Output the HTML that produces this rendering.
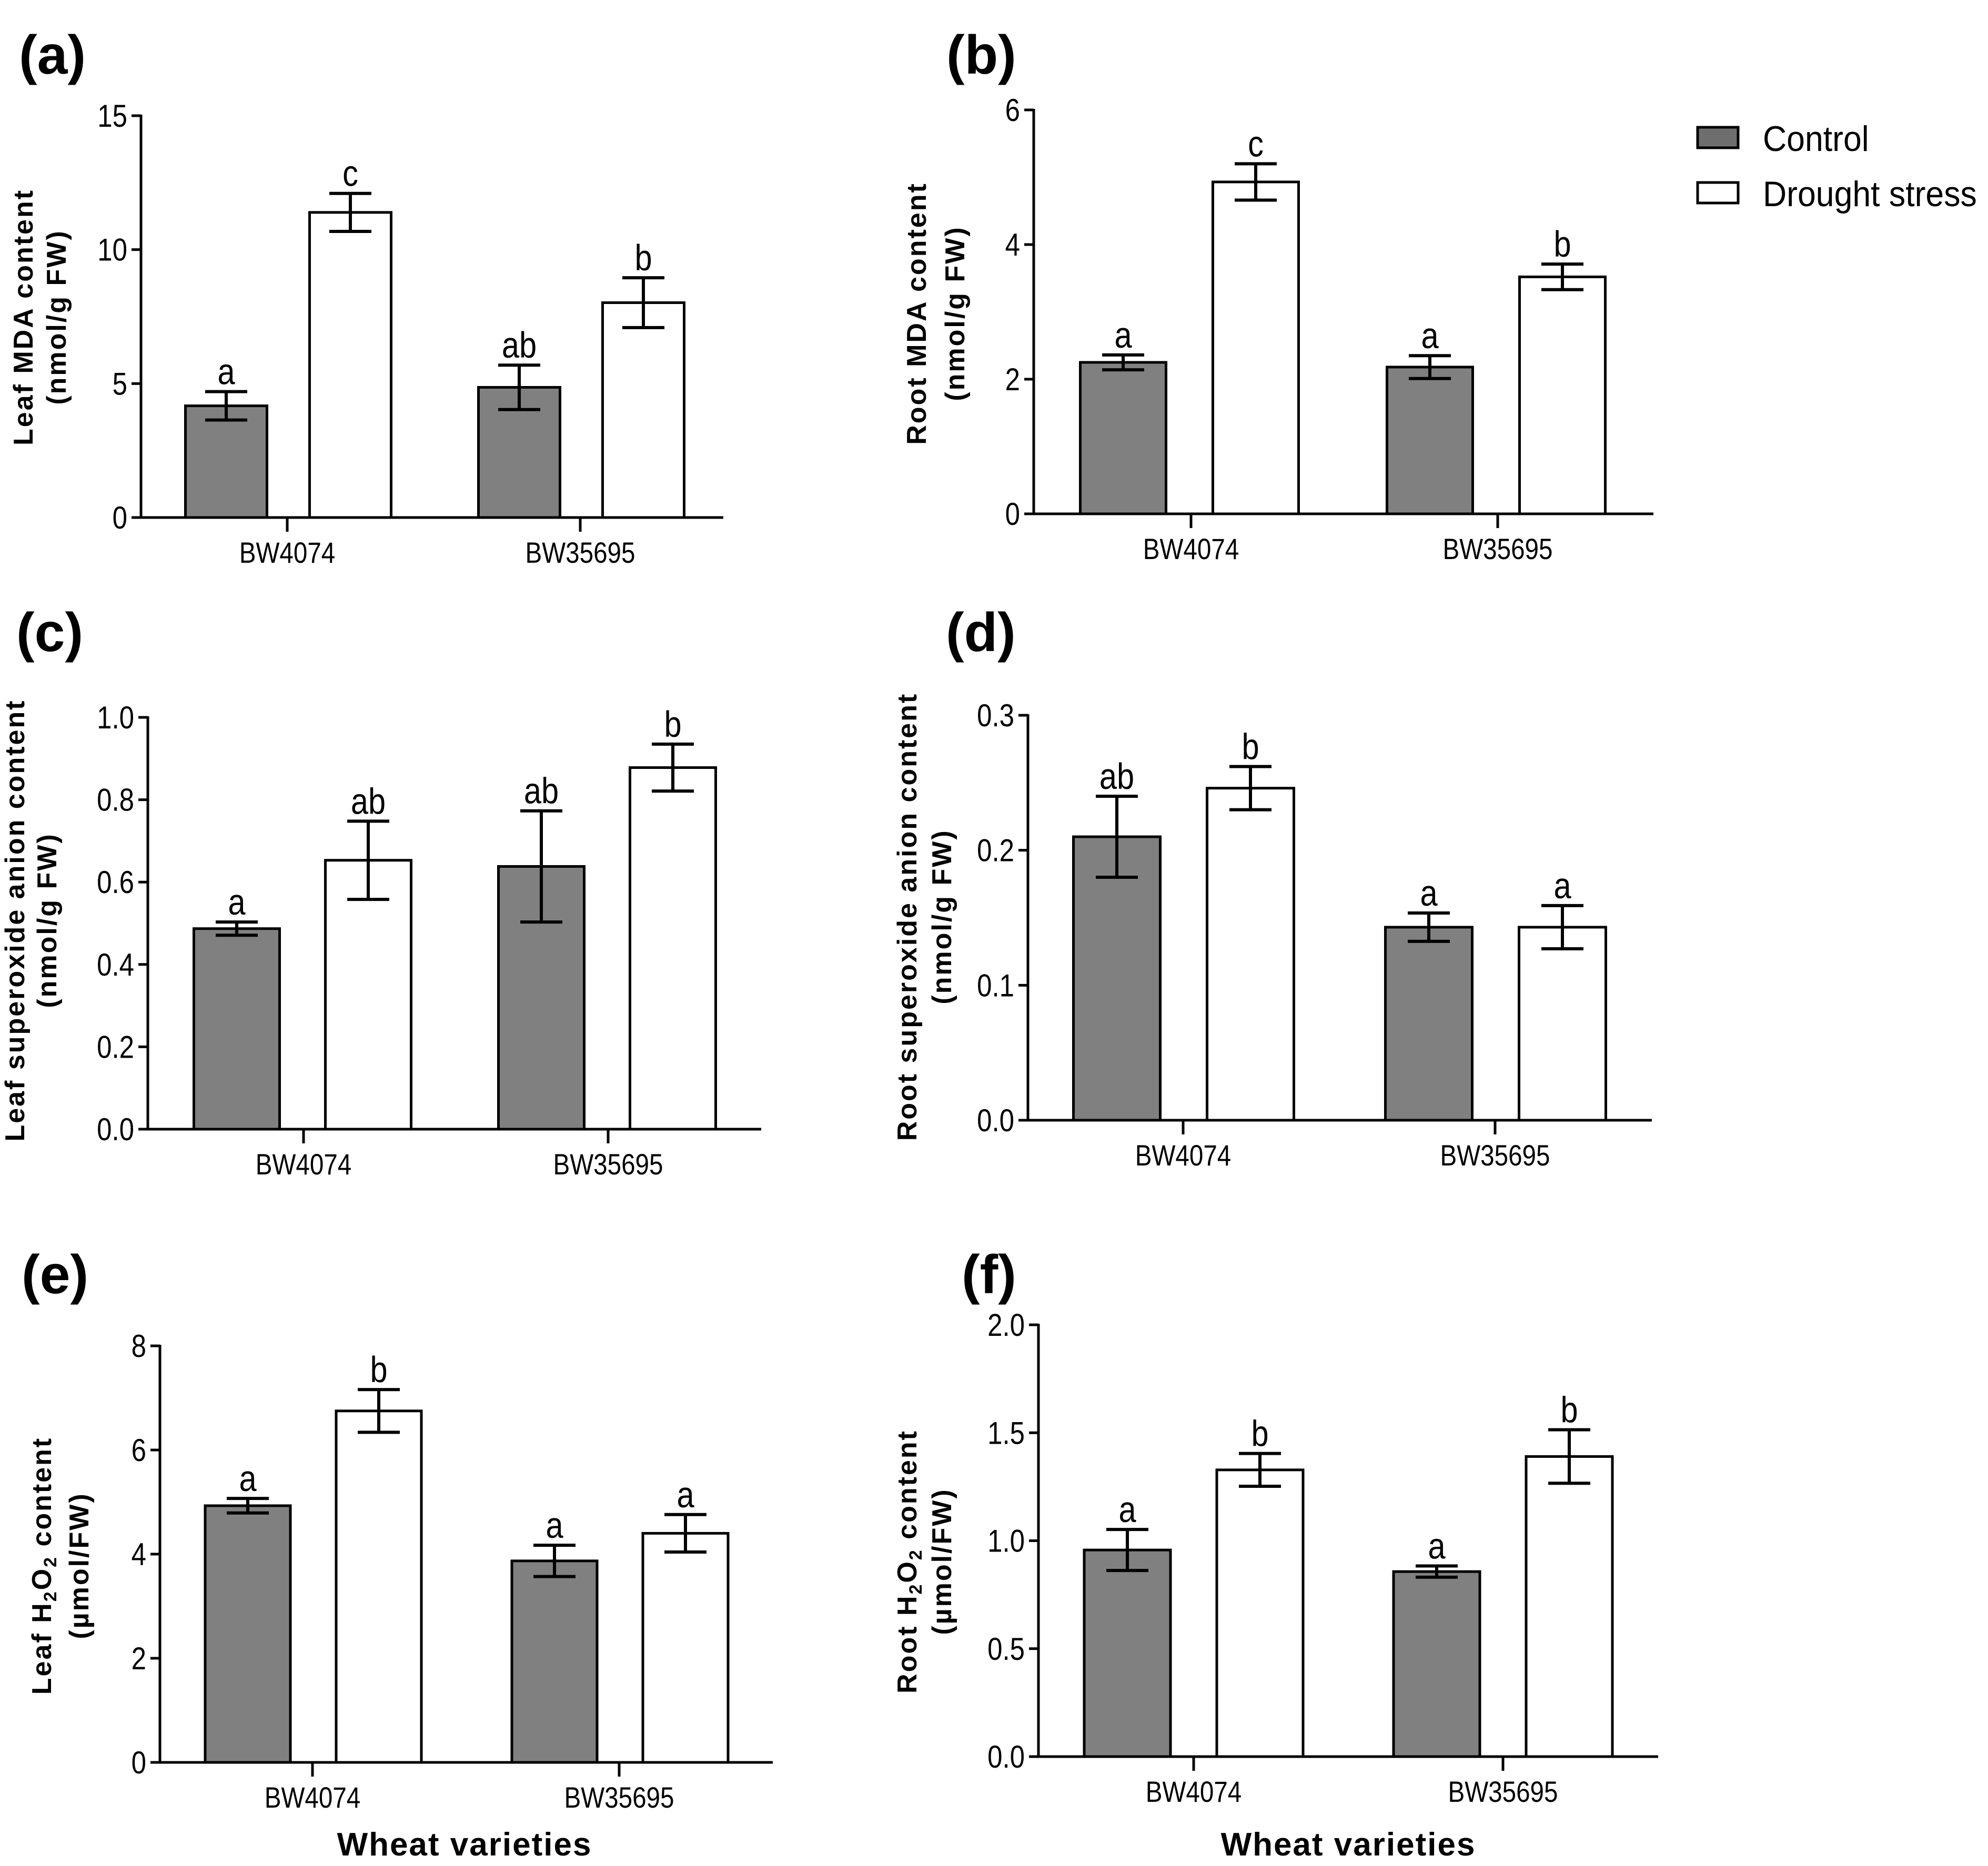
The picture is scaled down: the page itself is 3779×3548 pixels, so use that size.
<!DOCTYPE html>
<html><head><meta charset="utf-8"><style>
html,body{margin:0;padding:0;background:#fff;}
svg{display:block;}
text{font-family:"Liberation Sans",Arial,sans-serif;fill:#000;}
</style></head>
<body>
<svg id="fig" width="3779" height="3548" viewBox="0 0 3779 3548" xmlns="http://www.w3.org/2000/svg">
<rect x="0" y="0" width="3779" height="3548" fill="#fff"/>
</svg>
<script>
const categories = ['BW4074','BW35695'];
const seriesNames = ['Control','Drought stress'];
// (a) Leaf MDA
const aControl = [4.17, 4.86];
const aControlErr = [0.53, 0.83];
const aDrought = [11.39, 8.02];
const aDroughtErr = [0.71, 0.93];
const aLetters = ['a','c','ab','b'];
const aTicks = [0, 5, 10, 15];
// (b) Root MDA
const bControl = [2.25, 2.18];
const bControlErr = [0.11, 0.17];
const bDrought = [4.93, 3.52];
const bDroughtErr = [0.27, 0.19];
const bLetters = ['a','c','a','b'];
const bTicks = [0, 2, 4, 6];
// (c) Leaf superoxide
const cControl = [0.487, 0.638];
const cControlErr = [0.016, 0.135];
const cDrought = [0.653, 0.878];
const cDroughtErr = [0.095, 0.057];
const cLetters = ['a','ab','ab','b'];
const cTicks = [0, 0.2, 0.4, 0.6, 0.8, 1.0];
// (d) Root superoxide
const dControl = [0.210, 0.143];
const dControlErr = [0.030, 0.0105];
const dDrought = [0.246, 0.143];
const dDroughtErr = [0.016, 0.016];
const dLetters = ['ab','b','a','a'];
const dTicks = [0, 0.1, 0.2, 0.3];
// (e) Leaf H2O2
const eControl = [4.93, 3.87];
const eControlErr = [0.14, 0.30];
const eDrought = [6.75, 4.40];
const eDroughtErr = [0.41, 0.36];
const eLetters = ['a','b','a','a'];
const eTicks = [0, 2, 4, 6, 8];
// (f) Root H2O2
const fControl = [0.957, 0.857];
const fControlErr = [0.095, 0.026];
const fDrought = [1.328, 1.39];
const fDroughtErr = [0.076, 0.124];
const fLetters = ['a','b','a','b'];
const fTicks = [0, 0.5, 1.0, 1.5, 2.0];

const NS = 'http://www.w3.org/2000/svg';
const svg = document.getElementById('fig');
function mk(tag, attrs, parent) {
  const el = document.createElementNS(NS, tag);
  for (const k in attrs) el.setAttribute(k, attrs[k]);
  (parent || svg).appendChild(el);
  return el;
}

const panels = [
  {id:'a', title:'(a)', tx:36, ty:140, ax:268, top:220, y0:984, xEnd:1375, cx:[546,1103], offC:-116, offD:120, bw:155,
   ctrl:aControl, ctrlE:aControlErr, dr:aDrought, drE:aDroughtErr, letters:aLetters, ticks:aTicks, dec:0,
   yl1:['Leaf MDA content'], yl2:'(nmol/g FW)', ylx:[62,125], yly:603, xlabel:false},
  {id:'b', title:'(b)', tx:1799, ty:140, ax:1965, top:209, y0:977, xEnd:3143, cx:[2264,2847], offC:-129, offD:123, bw:163,
   ctrl:bControl, ctrlE:bControlErr, dr:bDrought, drE:bDroughtErr, letters:bLetters, ticks:bTicks, dec:0,
   yl1:['Root MDA content'], yl2:'(nmol/g FW)', ylx:[1760,1833], yly:596, xlabel:false},
  {id:'c', title:'(c)', tx:31, ty:1238, ax:281, top:1364, y0:2147, xEnd:1447, cx:[577,1156], offC:-127, offD:123, bw:163,
   ctrl:cControl, ctrlE:cControlErr, dr:cDrought, drE:cDroughtErr, letters:cLetters, ticks:cTicks, dec:1,
   yl1:['Leaf superoxide anion content'], yl2:'(nmol/g FW)', ylx:[46,107], yly:1750, xlabel:false},
  {id:'d', title:'(d)', tx:1798, ty:1238, ax:1954, top:1360, y0:2130, xEnd:3140, cx:[2249,2842], offC:-126, offD:128, bw:165,
   ctrl:dControl, ctrlE:dControlErr, dr:dDrought, drE:dDroughtErr, letters:dLetters, ticks:dTicks, dec:1,
   yl1:['Root superoxide anion content'], yl2:'(nmol/g FW)', ylx:[1742,1808], yly:1743, xlabel:false},
  {id:'e', title:'(e)', tx:41, ty:2459, ax:304, top:2559, y0:3351, xEnd:1469, cx:[594,1177], offC:-123, offD:126, bw:162,
   ctrl:eControl, ctrlE:eControlErr, dr:eDrought, drE:eDroughtErr, letters:eLetters, ticks:eTicks, dec:0,
   yl1:['Leaf H','2','O','2',' content'], yl2:'(µmol/FW)', ylx:[97,168], yly:2977, xlabel:true, xlx:883},
  {id:'f', title:'(f)', tx:1828, ty:2459, ax:1974, top:2519, y0:3340, xEnd:3152, cx:[2269,2857], offC:-126, offD:126, bw:164,
   ctrl:fControl, ctrlE:fControlErr, dr:fDrought, drE:fDroughtErr, letters:fLetters, ticks:fTicks, dec:1,
   yl1:['Root H','2','O','2',' content'], yl2:'(µmol/FW)', ylx:[1742,1808], yly:2969, xlabel:true, xlx:2563}
];

function condensedText(g, x, y, str, size, anchor, name) {
  const t = mk('text', {transform:'translate('+x+','+y+') scale(0.85,1)', 'font-size':size, 'text-anchor':anchor}, g);
  
  
  t.textContent = str;
  return t;
}

panels.forEach(p => {
  const g = mk('g', {});
  
  
  const ymax = p.ticks[p.ticks.length - 1];
  const yS = v => p.y0 - (v / ymax) * (p.y0 - p.top);

  const tt = mk('text', {x:p.tx, y:p.ty, 'font-size':104, 'font-weight':'bold'}, g);
  
  
  tt.textContent = p.title;

  const series = [
    {vals:p.ctrl, errs:p.ctrlE, off:p.offC, fill:'#808080', key:'control'},
    {vals:p.dr, errs:p.drE, off:p.offD, fill:'#ffffff', key:'drought'}
  ];
  series.forEach((s, si) => {
    categories.forEach((cat, ci) => {
      const cxm = p.cx[ci] + s.off;
      const v = s.vals[ci], e = s.errs[ci];
      const r = mk('rect', {x:cxm - p.bw/2, y:yS(v), width:p.bw, height:p.y0 - yS(v), fill:s.fill, stroke:'#000', 'stroke-width':5}, g);
      
      
      const eg = mk('g', {stroke:'#000', 'stroke-width':6}, g);
      
      
      const cw = 40;
      mk('line', {x1:cxm, x2:cxm, y1:yS(v+e), y2:yS(v-e)}, eg);
      mk('line', {x1:cxm-cw, x2:cxm+cw, y1:yS(v+e), y2:yS(v+e)}, eg);
      mk('line', {x1:cxm-cw, x2:cxm+cw, y1:yS(v-e), y2:yS(v-e)}, eg);
      condensedText(g, cxm, yS(v+e) - 14, p.letters[ci*2 + si], 70, 'middle', 'significance-letter-' + p.id);
    });
  });

  const axg = mk('g', {stroke:'#000', 'stroke-width':5}, g);
  
  
  mk('line', {x1:p.ax, x2:p.ax, y1:p.top - 2, y2:p.y0 + 2}, axg);
  mk('line', {x1:p.ax - 18, x2:p.xEnd, y1:p.y0, y2:p.y0}, axg);
  p.ticks.forEach(t => {
    mk('line', {x1:p.ax - 18, x2:p.ax, y1:yS(t), y2:yS(t)}, axg);
    condensedText(g, p.ax - 26, yS(t) + 21, t.toFixed(p.dec), 60, 'end', 'y-tick-label-' + p.id);
  });
  categories.forEach((cat, ci) => {
    mk('line', {x1:p.cx[ci], x2:p.cx[ci], y1:p.y0, y2:p.y0 + 27}, axg);
    condensedText(g, p.cx[ci], p.y0 + 86, cat, 56, 'middle', 'x-tick-label-' + p.id);
  });

  const t1 = mk('text', {transform:'translate('+p.ylx[0]+','+p.yly+') rotate(-90)', 'font-size':52, 'font-weight':'bold', 'text-anchor':'middle', 'letter-spacing':'3'}, g);
  
  
  if (p.yl1.length === 1) { t1.textContent = p.yl1[0]; }
  else {
    p.yl1.forEach((part, i) => {
      const ts = mk('tspan', {}, t1);
      if (part === '2') { ts.setAttribute('font-size', 34); ts.setAttribute('dy', 10); }
      else if (i > 0 && p.yl1[i-1] === '2') { ts.setAttribute('dy', -10); }
      ts.textContent = part;
    });
  }
  const t2 = mk('text', {transform:'translate('+p.ylx[1]+','+p.yly+') rotate(-90)', 'font-size':52, 'font-weight':'bold', 'text-anchor':'middle', 'letter-spacing':'3'}, g);
  
  
  t2.textContent = p.yl2;

  if (p.xlabel) {
    const xl = mk('text', {x:p.xlx, y:3528, 'font-size':62, 'font-weight':'bold', 'text-anchor':'middle', 'letter-spacing':'2'}, g);
    
    
    xl.textContent = 'Wheat varieties';
  }
});

const lg = mk('g', {});


const legendFills = ['#6e6e6e', '#ffffff'];
const legendY = [242, 347];
seriesNames.forEach((nm, i) => {
  const e = mk('g', {}, lg);
  
  
  mk('rect', {x:3227, y:legendY[i], width:77, height:39, fill:legendFills[i], stroke:'#000', 'stroke-width':5}, e);
  const t = mk('text', {transform:'translate(3351,' + (legendY[i] + 45) + ') scale(0.92,1)', 'font-size':68}, e);
  t.textContent = nm;
});
</script>
</body></html>
